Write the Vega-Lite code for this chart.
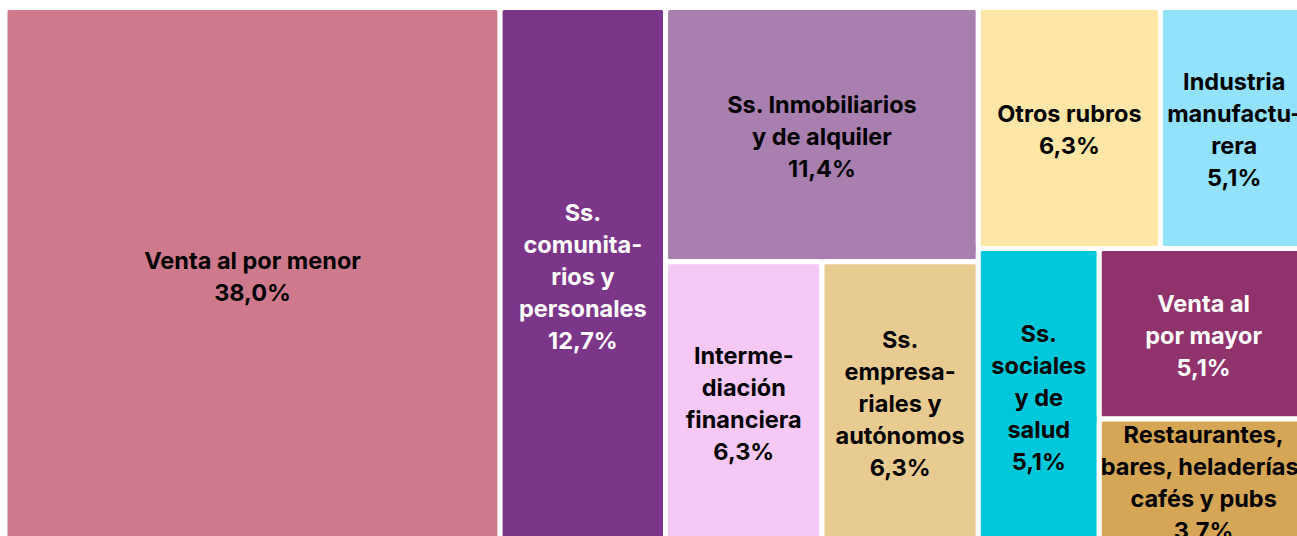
{
  "$schema": "https://vega.github.io/schema/vega-lite/v6.json",
  "autosize": {"type": "fit", "contains": "padding"},
  "width": 1297,
  "height": 536,
  "padding": 0,
  "background": "#ffffff",
  "config": {"view": {"stroke": null}},
  "data": {
    "values": [
      {"name": "Venta al por menor", "value": 38.0, "col": "A", "band": 1, "sub": 1, "ord": 1, "label": ["Venta al por menor", "38,0%"]},
      {"name": "Ss. comunitarios y personales", "value": 12.7, "col": "B", "band": 1, "sub": 1, "ord": 2, "label": ["Ss.", "comunita-", "rios y", "personales", "12,7%"]},
      {"name": "Ss. Inmobiliarios y de alquiler", "value": 11.4, "col": "C1", "band": 1, "sub": 1, "ord": 3, "label": ["Ss. Inmobiliarios", "y de alquiler", "11,4%"]},
      {"name": "Intermediación financiera", "value": 6.3, "col": "C1", "band": 2, "sub": 1, "ord": 4, "label": ["Interme-", "diación", "financiera", "6,3%"]},
      {"name": "Ss. empresariales y autónomos", "value": 6.3, "col": "C1", "band": 2, "sub": 2, "ord": 5, "label": ["Ss.", "empresa-", "riales y", "autónomos", "6,3%"]},
      {"name": "Otros rubros", "value": 6.3, "col": "C2", "band": 1, "sub": 1, "ord": 6, "label": ["Otros rubros", "6,3%"]},
      {"name": "Industria manufacturera", "value": 5.1, "col": "C2", "band": 1, "sub": 2, "ord": 7, "label": ["Industria", "manufactu-", "rera", "5,1%"]},
      {"name": "Ss. sociales y de salud", "value": 5.1, "col": "C2", "band": 2, "sub": 1, "ord": 8, "label": ["Ss.", "sociales", "y de", "salud", "5,1%"]},
      {"name": "Venta al por mayor", "value": 5.1, "col": "C2", "band": 2, "sub": 2, "ord": 9, "label": ["Venta al", "por mayor", "5,1%"]},
      {"name": "Restaurantes, bares, heladerías, cafés y pubs", "value": 3.7, "col": "C2", "band": 2, "sub": 2, "ord": 10, "label": ["Restaurantes,", "bares, heladerías,", "cafés y pubs", "3,7%"]}
    ]
  },
  "transform": [
    {"window": [{"op": "sum", "field": "value", "as": "cumAll"}], "sort": [{"field": "ord"}], "frame": [null, 0]},
    {"calculate": "datum.cumAll - datum.value", "as": "preAll"},
    {"joinaggregate": [{"op": "sum", "field": "value", "as": "colTotal"}, {"op": "min", "field": "preAll", "as": "colX0"}], "groupby": ["col"]},
    {"window": [{"op": "sum", "field": "value", "as": "cumCol"}], "sort": [{"field": "ord"}], "groupby": ["col"], "frame": [null, 0]},
    {"calculate": "datum.cumCol - datum.value", "as": "preCol"},
    {"joinaggregate": [{"op": "sum", "field": "value", "as": "bandTotal"}, {"op": "min", "field": "preCol", "as": "bandPre"}], "groupby": ["col", "band"]},
    {"window": [{"op": "sum", "field": "value", "as": "cumBand"}], "sort": [{"field": "ord"}], "groupby": ["col", "band"], "frame": [null, 0]},
    {"calculate": "datum.cumBand - datum.value", "as": "preBand"},
    {"joinaggregate": [{"op": "sum", "field": "value", "as": "subTotal"}, {"op": "min", "field": "preBand", "as": "subPre"}], "groupby": ["col", "band", "sub"]},
    {"window": [{"op": "sum", "field": "value", "as": "cumSub"}], "sort": [{"field": "ord"}], "groupby": ["col", "band", "sub"], "frame": [null, 0]},
    {"calculate": "datum.cumSub - datum.value", "as": "preSub"},
    {"calculate": "datum.bandPre / datum.colTotal", "as": "bandY0"},
    {"calculate": "(datum.bandPre + datum.bandTotal) / datum.colTotal", "as": "bandY1"},
    {"calculate": "datum.colX0 + datum.colTotal * datum.subPre / datum.bandTotal", "as": "x0"},
    {"calculate": "datum.colX0 + datum.colTotal * (datum.subPre + datum.subTotal) / datum.bandTotal", "as": "x1"},
    {"calculate": "datum.bandY0 + (datum.bandY1 - datum.bandY0) * datum.preSub / datum.subTotal", "as": "y0"},
    {"calculate": "datum.bandY0 + (datum.bandY1 - datum.bandY0) * datum.cumSub / datum.subTotal", "as": "y1"},
    {"calculate": "(datum.x0 + datum.x1) / 2", "as": "xc"},
    {"calculate": "(datum.y0 + datum.y1) / 2 + (3 - (length(datum.label) - 1) * 16) / 535", "as": "yc"}
  ],
  "layer": [
    {
      "mark": {"type": "rect", "cornerRadius": 4, "stroke": "#ffffff", "strokeWidth": 5, "clip": true},
      "encoding": {
        "x": {"field": "x0", "type": "quantitative", "scale": {"domain": [-0.384, 99.16], "nice": false, "zero": false}, "axis": null},
        "x2": {"field": "x1"},
        "y": {"field": "y0", "type": "quantitative", "scale": {"domain": [-0.01402, 0.98785], "nice": false, "zero": false, "reverse": true}, "axis": null},
        "y2": {"field": "y1"},
        "color": {
          "field": "name",
          "type": "nominal",
          "legend": null,
          "scale": {
            "domain": ["Venta al por menor", "Ss. comunitarios y personales", "Ss. Inmobiliarios y de alquiler", "Intermediación financiera", "Ss. empresariales y autónomos", "Otros rubros", "Industria manufacturera", "Ss. sociales y de salud", "Venta al por mayor", "Restaurantes, bares, heladerías, cafés y pubs"],
            "range": ["#ce7a8c", "#7b368a", "#a87fae", "#f5c8f5", "#e8cb90", "#fde6a6", "#92e2fb", "#00c8da", "#90326c", "#d4a656"]
          }
        }
      }
    },
    {
      "mark": {"type": "text", "font": "Inter", "fontWeight": "bold", "fontSize": 23.5, "lineHeight": 32, "align": "center", "baseline": "middle", "clip": true},
      "encoding": {
        "x": {"field": "xc", "type": "quantitative"},
        "y": {"field": "yc", "type": "quantitative"},
        "text": {"field": "label"},
        "color": {
          "condition": {"test": "datum.name === 'Ss. comunitarios y personales' || datum.name === 'Venta al por mayor'", "value": "#ffffff"},
          "value": "#000000"
        }
      }
    }
  ]
}
